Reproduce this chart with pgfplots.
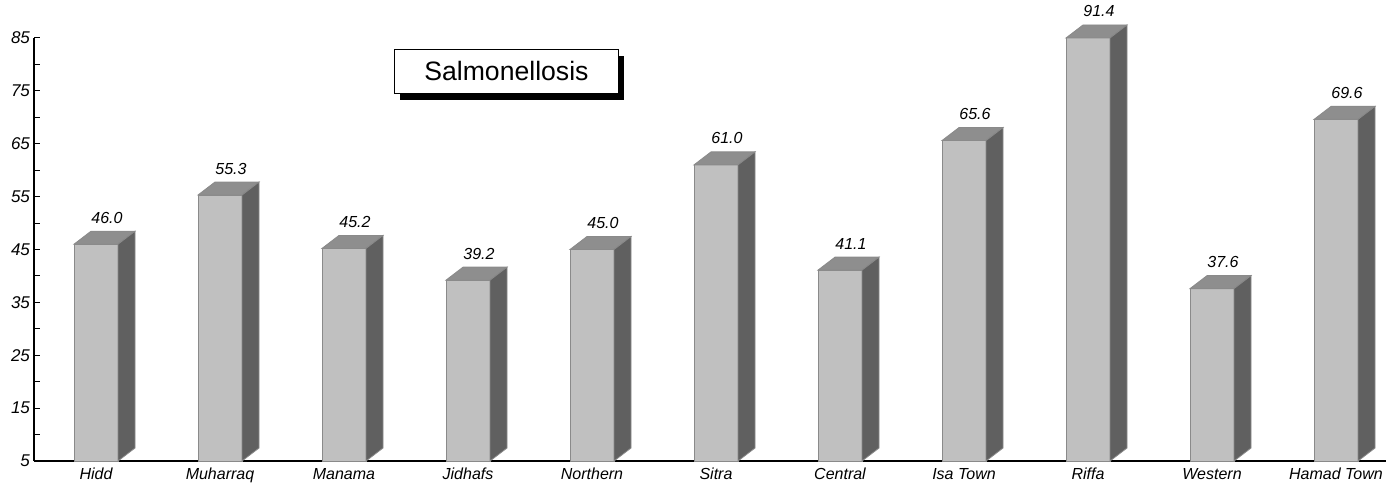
\documentclass[border=0pt]{standalone}
\usepackage{fontspec}
\setmainfont{Liberation Sans}
\usepackage{pgfplots}
\pgfplotsset{compat=1.18}
\usepackage{pgfplotstable}
\usetikzlibrary{shadows}

\definecolor{frontgray}{HTML}{C0C0C0}
\definecolor{topgray}{HTML}{8E8E8E}
\definecolor{sidegray}{HTML}{606060}
\definecolor{edgegray}{HTML}{8A8A8A}

% h = drawn height (Riffa is cut at the axis top), v = printed value
\pgfplotstableread{
x v h
0 46.0 46.0
1 55.3 55.3
2 45.2 45.2
3 39.2 39.2
4 45.0 45.0
5 61.0 61.0
6 41.1 41.1
7 65.6 65.6
8 91.4 85.0
9 37.6 37.6
10 69.6 69.6
}\rates

% top and side faces of a bar, drawn at the bar's top centre
\pgfdeclareplotmark{bar3d}{%
  \pgfmathsetmacro\hgt{(\hh-5)*2.644}%
  \pgfsetlinewidth{0.4pt}%
  \pgfsetstrokecolor{edgegray}%
  \pgfsetfillcolor{topgray}%
  \pgfpathmoveto{\pgfpoint{-11pt}{0pt}}%
  \pgfpathlineto{\pgfpoint{11pt}{0pt}}%
  \pgfpathlineto{\pgfpoint{19.5pt}{6.5pt}}%
  \pgfpathlineto{\pgfpoint{-2.5pt}{6.5pt}}%
  \pgfpathclose
  \pgfusepath{fill,stroke}%
  \pgfsetfillcolor{sidegray}%
  \pgfpathmoveto{\pgfpoint{11pt}{0pt}}%
  \pgfpathlineto{\pgfpoint{19.5pt}{6.5pt}}%
  \pgfpathlineto{\pgfpoint{19.5pt}{6.5pt-\hgt pt}}%
  \pgfpathlineto{\pgfpoint{11pt}{-\hgt pt}}%
  \pgfpathclose
  \pgfusepath{fill,stroke}%
}

\begin{document}
\begin{tikzpicture}
\begin{axis}[
    at={(0,0)}, anchor=south west,
    x=62pt, y=2.644pt,
    xmin=-0.5, xmax=10.4,
    ymin=5, ymax=85,
    clip=false,
    axis lines*=left,
    axis line style={black, line width=0.6pt},
    ytick={5,15,...,85},
    minor ytick={10,20,...,80},
    tick align=inside,
    major tick length=3pt, minor tick length=3pt,
    tick style={black, line width=0.5pt},
    xtick={0,...,10},
    xticklabels={Hidd,Muharraq,Manama,Jidhafs,Northern,Sitra,Central,Isa Town,Riffa,Western,Hamad Town},
    x tick style={draw=none},
    tick label style={font=\fontsize{8}{9}\selectfont\itshape},
    /pgf/number format/assume math mode=true,
    yticklabel style={xshift=1.5pt, font=\fontsize{8.5}{9}\selectfont\itshape},
    xticklabel style={anchor=base, yshift=-9pt},
  ]
\addplot[ybar, bar width=22pt, bar shift=0pt, fill=frontgray, draw=edgegray, line width=0.5pt]
  table[x=x, y=h] {\rates};
\addplot[only marks, mark=bar3d,
    visualization depends on={\thisrow{h} \as \hh},
    point meta=\thisrow{v},
    nodes near coords={\pgfmathprintnumber[fixed, fixed zerofill, precision=1]{\pgfplotspointmeta}},
    nodes near coords style={anchor=base, xshift=5.5pt, yshift=10.5pt,
      font=\fontsize{8}{9}\selectfont\itshape, text=black},
  ] table[x=x, y=h] {\rates};
\node[draw=black, line width=0.7pt, fill=white, minimum width=112pt, minimum height=22pt,
  font=\fontsize{13.3}{15}\selectfont,
  drop shadow={shadow xshift=3pt, shadow yshift=-3.5pt, fill=black, opacity=1}]
  at (axis cs:3.31,78.7) {Salmonellosis};
\end{axis}
\pgfresetboundingbox
\path (-17pt,-13.5pt) rectangle (678.5pt,230.5pt);
\end{tikzpicture}
\end{document}
